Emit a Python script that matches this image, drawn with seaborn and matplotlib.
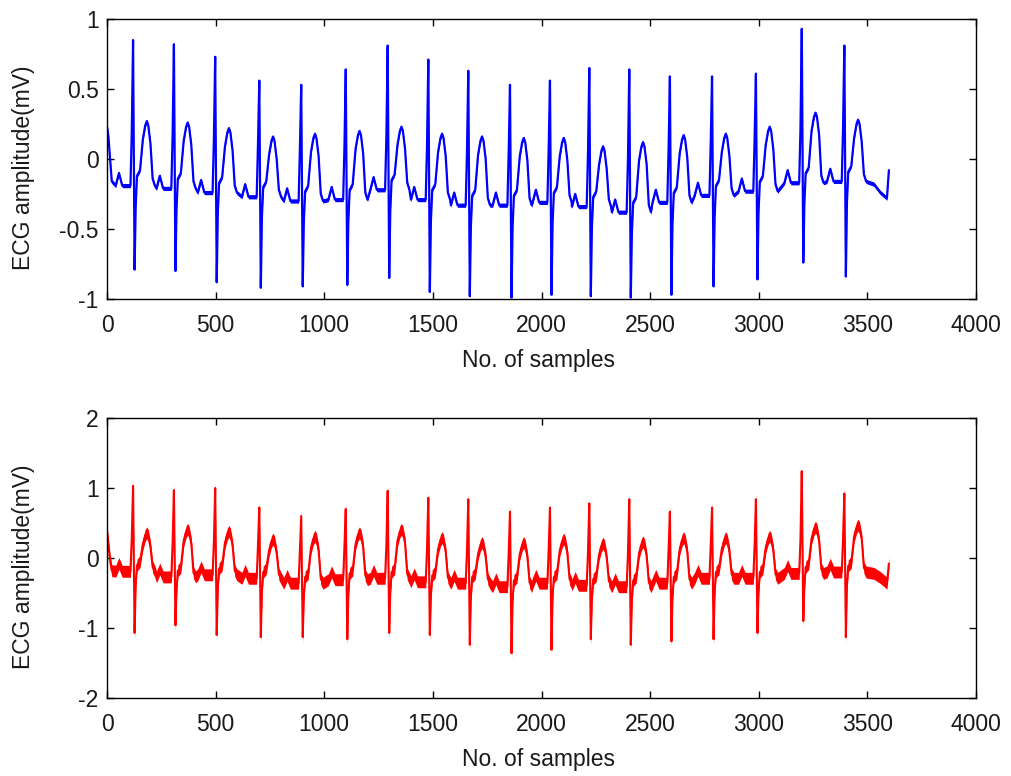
import numpy as np
import pandas as pd
import matplotlib
matplotlib.use("Agg")
import matplotlib.pyplot as plt
import seaborn as sns

# ---------------- data ----------------
# R-peak sample positions (same for both traces)
r_pos = [120, 308, 498, 701, 894, 1099, 1292, 1479, 1663, 1855, 2039, 2220,
         2404, 2591, 2785, 2987, 3198, 3394]

# Top (blue) trace: per-beat R peak, S trough, T peak and baseline (mV)
blue_r = [0.85, 0.82, 0.73, 0.56, 0.53, 0.64, 0.81, 0.71, 0.63, 0.53, 0.56, 0.65,
          0.64, 0.59, 0.59, 0.61, 0.93, 0.81]
blue_s = [-0.79, -0.80, -0.88, -0.92, -0.91, -0.90, -0.85, -0.95, -0.98, -0.99, -0.97, -0.98,
          -0.99, -0.97, -0.91, -0.86, -0.74, -0.84]
blue_t = [0.27, 0.26, 0.22, 0.16, 0.18, 0.20, 0.23, 0.18, 0.16, 0.15, 0.15, 0.09,
          0.12, 0.17, 0.18, 0.23, 0.33, 0.28]
blue_base = [-0.19, -0.21, -0.24, -0.27, -0.30, -0.29, -0.22, -0.29, -0.33, -0.33, -0.31, -0.34,
             -0.38, -0.31, -0.26, -0.23, -0.17, -0.16]
blue_head_x = [0, 6, 14, 22]
blue_head_y = [0.23, 0.17, 0.00, -0.16]
blue_tail_x = [3530, 3560, 3590, 3599]
blue_tail_y = [-0.18, -0.24, -0.28, -0.08]
blue_noise = 0.015  # half-width of the small fuzz around the blue trace

# Bottom (red, noisy) trace
red_r = [1.03, 0.97, 1.00, 0.72, 0.60, 0.70, 0.96, 0.86, 0.84, 0.66, 0.72, 0.78,
         0.84, 0.66, 0.72, 0.84, 1.24, 0.92]
red_s = [-1.07, -0.96, -1.10, -1.13, -1.13, -1.16, -1.07, -1.10, -1.24, -1.36, -1.31, -1.16,
         -1.24, -1.19, -1.16, -1.07, -0.90, -1.13]
red_t = [0.36, 0.41, 0.38, 0.27, 0.31, 0.36, 0.41, 0.29, 0.22, 0.22, 0.27, 0.21,
         0.23, 0.29, 0.29, 0.31, 0.44, 0.47]
red_base = [-0.19, -0.27, -0.24, -0.29, -0.36, -0.31, -0.29, -0.34, -0.36, -0.41, -0.36, -0.39,
            -0.41, -0.36, -0.29, -0.29, -0.22, -0.20]
red_head_x = [0, 6, 14, 22]
red_head_y = [0.38, 0.20, -0.03, -0.18]
red_tail_x = [3530, 3560, 3590, 3599]
red_tail_y = [-0.22, -0.28, -0.36, -0.08]
red_noise = 0.085  # half-width of the noise band seen around the red trace

# shape of a single beat (sample offsets from the R peak), read from beat 1
beat_offsets = [-80, -65, -50, -12, -6, 0, 7, 12, 18, 32, 45, 56, 63, 70, 80, 90, 100]


def beat_values(b, r, s, t, k):
    return [b, b + 0.09 * k, b, b, b + 0.38 * k, r, s, b - 0.15 * k, b + 0.07 * k,
            b + 0.11 * k, t - 0.13 * k, t - 0.03 * k, t, t - 0.03 * k, t - 0.16 * k,
            b + 0.05 * k, b]


def build_trace(base, rr, ss, tt, hx, hy, tx, ty, k):
    xs, ys = list(hx), list(hy)
    for p, b, r, s, t in zip(r_pos, base, rr, ss, tt):
        xs += [p + o for o in beat_offsets]
        ys += beat_values(b, r, s, t, k)
    xs += tx
    ys += ty
    return pd.DataFrame({"sample": xs, "amp": ys})


blue_df = build_trace(blue_base, blue_r, blue_s, blue_t, blue_head_x, blue_head_y,
                      blue_tail_x, blue_tail_y, 1.0)
red_df = build_trace(red_base, red_r, red_s, red_t, red_head_x, red_head_y,
                     red_tail_x, red_tail_y, 1.25)

# ---------------- figure ----------------
sns.set_style("white")
plt.rcParams["font.family"] = ["Liberation Sans", "DejaVu Sans"]
txt = "#1a1a1a"
fs = 16.5

W, H = 1011, 776
fig = plt.figure(figsize=(W / 100, H / 100), dpi=100)
fig.patch.set_facecolor("white")

ax1 = fig.add_axes([107 / W, 1 - 299 / H, 869 / W, 280 / H])
ax2 = fig.add_axes([107 / W, 1 - 698 / H, 869 / W, 280 / H])

ax1.fill_between(blue_df["sample"], blue_df["amp"] - blue_noise, blue_df["amp"] + blue_noise,
                 color="#0000ff", linewidth=0)
sns.lineplot(data=blue_df, x="sample", y="amp", ax=ax1, color="#0000ff",
             linewidth=1.6, estimator=None, sort=False)
ax2.fill_between(red_df["sample"], red_df["amp"] - red_noise, red_df["amp"] + red_noise,
                 color="#ff0000", linewidth=0)
sns.lineplot(data=red_df, x="sample", y="amp", ax=ax2, color="#ff0000",
             linewidth=1.5, estimator=None, sort=False)

for ax, ylim, yt in [(ax1, (-1, 1), np.arange(-1, 1.01, 0.5)),
                     (ax2, (-2, 2), np.arange(-2, 2.01, 1))]:
    ax.set_xlim(0, 4000)
    ax.set_ylim(*ylim)
    ax.set_xticks(np.arange(0, 4001, 500))
    ax.set_yticks(yt)
    if ax is ax1:
        ax.set_yticklabels(["-1", "-0.5", "0", "0.5", "1"])
    else:
        ax.set_yticklabels(["-2", "-1", "0", "1", "2"])
    ax.tick_params(direction="in", length=5, width=1, top=True, right=True,
                   bottom=True, left=True, labelsize=fs, colors="black",
                   labelcolor=txt)
    ax.tick_params(axis="x", pad=11)
    ax.tick_params(axis="y", pad=6)
    for sp in ax.spines.values():
        sp.set_visible(True)
        sp.set_color("black")
        sp.set_linewidth(1.0)
    ax.set_xlabel("No. of samples", fontsize=fs, color=txt)
    ax.set_ylabel("ECG amplitude(mV)", fontsize=fs, color=txt)
    ax.xaxis.set_label_coords(0.496, -0.178)
    ax.yaxis.set_label_coords(-0.083, 0.47)

fig.savefig("out.png", dpi=100, facecolor="white")
